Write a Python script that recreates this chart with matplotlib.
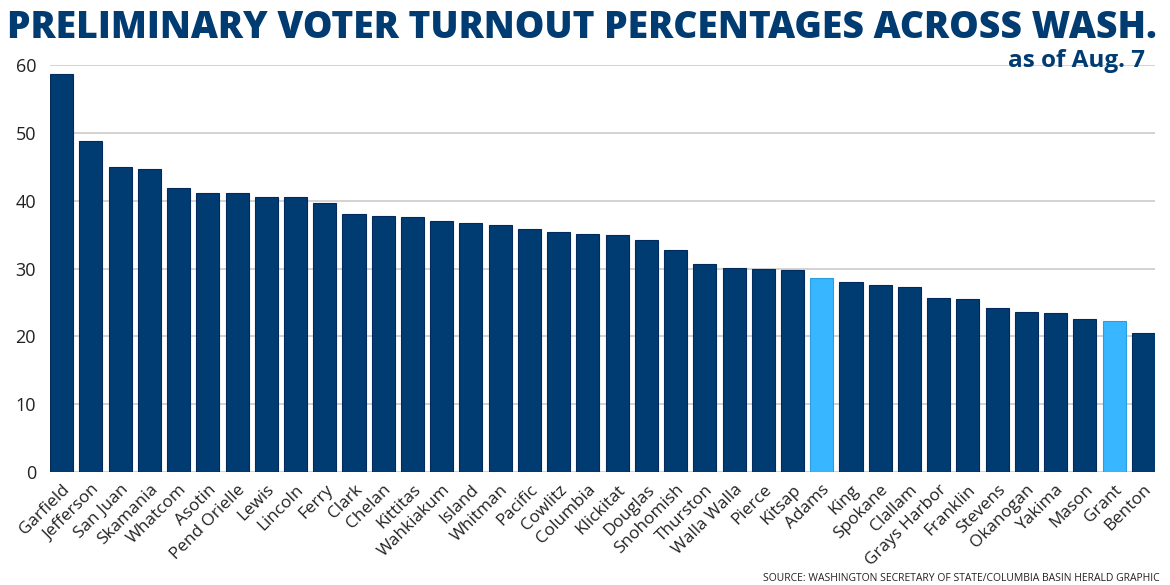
import numpy as np
import matplotlib.pyplot as plt

# Datos
counties = ['Garfield', 'Jefferson', 'San Juan', 'Skamania', 'Whatcom', 'Asotin',
            'Pend Orielle', 'Lewis', 'Lincoln', 'Ferry', 'Clark', 'Chelan',
            'Kittitas', 'Wahkiakum', 'Island', 'Whitman', 'Pacific', 'Cowlitz',
            'Columbia', 'Klickitat', 'Douglas', 'Snohomish', 'Thurston',
            'Walla Walla', 'Pierce', 'Kitsap', 'Adams', 'King', 'Spokane',
            'Clallam', 'Grays Harbor', 'Franklin', 'Stevens', 'Okanogan',
            'Yakima', 'Mason', 'Grant', 'Benton']
turnout = [58.7, 48.8, 45.0, 44.7, 41.9, 41.2, 41.1, 40.6, 40.5, 39.7, 38.1, 37.8,
           37.6, 37.0, 36.7, 36.4, 35.8, 35.4, 35.1, 34.9, 34.2, 32.7, 30.6,
           30.1, 30.0, 29.8, 28.6, 28.0, 27.5, 27.2, 25.7, 25.5, 24.2, 23.6,
           23.4, 22.5, 22.3, 20.5]
highlight = ['Adams', 'Grant']
yticks = [0, 10, 20, 30, 40, 50, 60]

navy = '#003B71'
light = '#38B6FF'

plt.rcParams['font.family'] = ['Open Sans', 'DejaVu Sans']

fig = plt.figure(figsize=(11.7, 5.85), dpi=100)
ax = fig.add_axes([50 / 1170, 1 - 472 / 585, 1105 / 1170, (472 - 65) / 585])

x = np.arange(len(counties))
colors = [light if c in highlight else navy for c in counties]
edges = ['#2a9fe0' if c in highlight else '#022a5c' for c in counties]
ax.bar(x, turnout, width=0.79, color=colors, edgecolor=edges, linewidth=0.8, zorder=3)

ax.set_xlim(-0.4, len(counties) - 0.6)
ax.set_ylim(0, 60)
ax.set_yticks(yticks)
ax.yaxis.grid(True, color='#cccccc', linewidth=1.2, zorder=0)
ax.set_axisbelow(True)
for s in ax.spines.values():
    s.set_visible(False)
ax.tick_params(axis='both', length=0, labelsize=12.3, labelcolor='#222222')
ax.tick_params(axis='y', pad=10, labelsize=13)
ax.tick_params(axis='x', pad=7)
ax.set_xticks(x)
ax.set_xticklabels(counties, rotation=45, ha='right', rotation_mode='anchor')

title = fig.text(7 / 1170, 1 - 38 / 585, 'PRELIMINARY VOTER TURNOUT PERCENTAGES ACROSS WASH.',
                 ha='left', va='baseline', fontsize=26, fontweight='heavy', color=navy)
# ajustar el tamaño del título al ancho del original (~1151 px)
r = fig.canvas.get_renderer()
w = title.get_window_extent(r).width
title.set_fontsize(26 * 1151 / w)

fig.text(1145 / 1170, 1 - 67 / 585, 'as of Aug. 7', ha='right', va='baseline',
         fontsize=17.5, fontweight='bold', color=navy)
fig.text(1160 / 1170, 1 - 581 / 585,
         'SOURCE: WASHINGTON SECRETARY OF STATE/COLUMBIA BASIN HERALD GRAPHIC',
         ha='right', va='baseline', fontsize=7.5, color='#222222')

fig.savefig('out.png', dpi=100)
